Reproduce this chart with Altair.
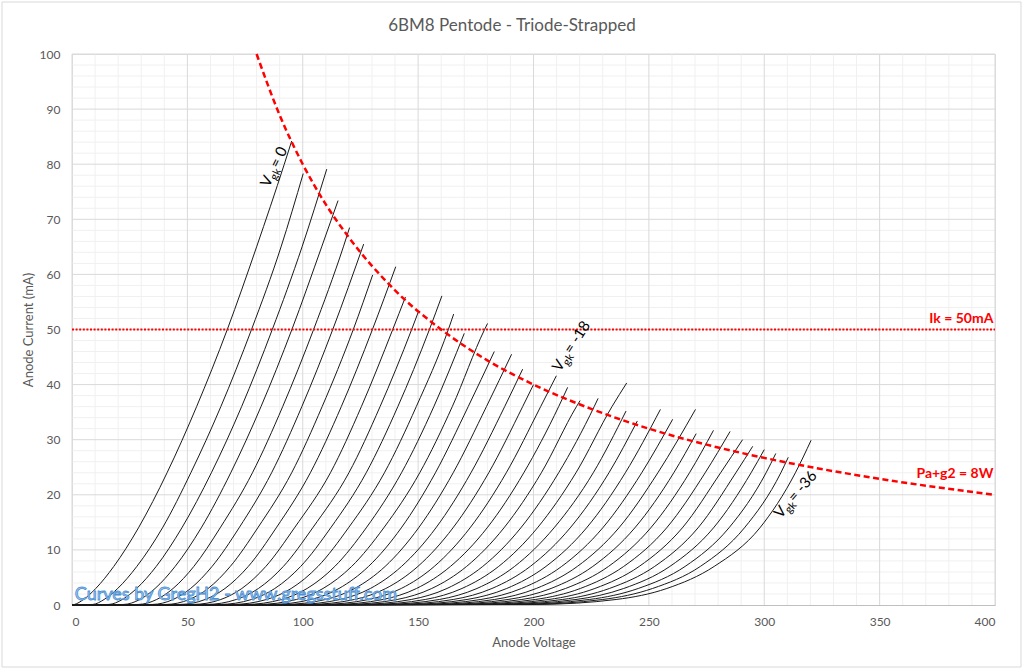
import math
import pandas as pd
import altair as alt

# ---------------- data ----------------
# anode current levels (mA) at which the anode voltage of each curve was read
LEVELS = [0.1, 1, 3, 7, 14, 24, 36, 50, 65, 80]
GRID_V = list(range(0, -37, -1))  # Vgk of each curve

# anode voltage (V) of each curve at LEVELS[0], LEVELS[1], ... (until the curve stops)
CURVE_V = [
    [1.1, 5.0, 10.3, 18.1, 28.8, 41.2, 54.0, 67.3, 80.0, 92.0],
    [9.0, 13.9, 19.8, 28.1, 39.2, 51.5, 64.5, 77.8, 90.6],
    [15.9, 21.8, 28.0, 36.5, 47.6, 60.4, 73.5, 86.8, 99.7],
    [22.4, 29.4, 36.0, 44.7, 56.0, 68.8, 81.9, 95.3, 108.2],
    [28.7, 36.7, 43.8, 52.8, 64.2, 78.2, 91.3, 104.7, 117.6],
    [34.8, 43.8, 51.4, 60.7, 72.4, 86.5, 99.6, 113.0],
    [40.8, 50.8, 59.0, 68.6, 80.5, 95.2, 108.4, 121.9],
    [46.7, 57.7, 66.3, 76.4, 88.5, 103.3, 116.7, 130.2],
    [52.5, 64.5, 73.6, 84.0, 96.4, 112.0, 125.4, 139.0],
    [58.3, 71.2, 80.8, 91.6, 104.3, 120.0, 133.5, 147.2],
    [64.0, 77.8, 87.9, 99.1, 112.1, 127.5, 141.2, 154.9],
    [69.6, 84.3, 95.0, 106.6, 119.8, 135.4, 149.2, 163.1],
    [75.2, 90.8, 101.9, 113.9, 127.5, 142.8, 156.8],
    [80.7, 97.2, 108.8, 121.2, 135.1, 150.7, 164.8, 178.8],
    [86.2, 103.6, 115.7, 128.5, 142.7, 157.5, 171.7],
    [91.7, 109.9, 122.5, 135.7, 150.2, 165.2, 179.6],
    [97.1, 116.2, 129.3, 142.8, 157.7, 172.9, 187.5],
    [102.5, 122.4, 136.0, 149.9, 165.1, 180.6, 195.3],
    [107.9, 128.6, 142.7, 157.0, 172.5, 188.2, 203.1],
    [113.3, 134.8, 149.3, 164.0, 179.9, 195.8, 210.9],
    [118.6, 140.9, 155.9, 171.0, 187.2, 203.4, 218.6],
    [123.9, 147.0, 162.5, 178.0, 194.5, 210.9, 226.3],
    [129.2, 153.1, 169.0, 184.9, 201.7, 218.4, 234.0],
    [134.4, 159.2, 175.5, 191.8, 208.9, 225.9],
    [139.7, 165.2, 182.0, 198.6, 215.9, 232.7],
    [144.9, 171.2, 188.4, 205.4, 223.0, 239.8],
    [150.1, 177.2, 194.8, 212.2, 230.0, 246.9],
    [155.3, 183.1, 201.2, 219.0, 237.0, 253.9],
    [160.4, 189.0, 207.6, 225.7, 243.9, 260.8],
    [165.6, 194.9, 213.9, 232.5, 250.8, 267.6],
    [170.7, 200.8, 220.3, 239.1, 257.7, 274.4],
    [175.8, 206.7, 226.6, 245.8, 264.5, 281.1],
    [180.9, 212.6, 232.9, 252.5, 271.3, 287.7],
    [186.0, 218.4, 239.1, 259.1, 278.0, 294.3],
    [191.1, 224.2, 245.4, 265.7, 284.7, 300.8],
    [196.2, 230.0, 251.6, 272.3, 291.4, 307.2],
    [201.2, 235.8, 257.8, 278.3, 298.1, 313.5],
]
# last point of each curve
END_V = [95.2, 100.2, 110.4, 115.3, 120.3, 126.4, 130.3, 140.3, 144.5, 150.1,
         160.3, 165.4, 170.0, 180.1, 183.0, 190.5, 195.3, 200.0, 209.9, 214.8,
         220.2, 228.0, 240.4, 240.1, 245.0, 255.0, 260.3, 270.2, 270.5, 278.0,
         285.2, 290.6, 295.0, 300.0, 305.0, 310.4, 320.3]
END_I = [84.2, 78.3, 79.1, 73.4, 68.5, 65.5, 59.9, 61.4, 55.9, 53.2,
         56.1, 52.8, 49.3, 51.1, 46.0, 45.5, 42.8, 40.0, 41.6, 39.5,
         37.1, 37.5, 40.3, 35.2, 33.4, 35.5, 33.7, 35.5, 31.1, 31.7,
         31.5, 30.0, 28.8, 28.2, 27.5, 26.8, 29.9]

# Pa+g2 = 8 W dissipation curve
PWR_V = [80, 90, 100, 110, 120, 140, 160, 180, 200, 225, 250, 275, 300, 350, 400]
PWR_I = [100, 88.9, 80, 72.7, 66.7, 57.1, 50, 44.4, 40, 35.6, 32, 29.1, 26.7, 22.9, 20]
# Ik = 50 mA line
IK_V = [0, 400]
IK_I = [50, 50]

X_MAJOR = list(range(0, 401, 50))
Y_MAJOR = list(range(0, 101, 10))
X_MINOR = [v for v in range(0, 401, 10) if v % 50]
Y_MINOR = [v for v in range(0, 101, 2) if v % 10]

# curve labels (start of the text, data units) and their angle
LAB_TXT = ["0", "-18", "-36"]
LAB_V = [85.4, 211.5, 307.2]
LAB_I = [75.7, 42.2, 15.6]
LAB_ANG = [296, 303, 310.6]

# ---------------- layout ----------------
W, H = 923, 551
PX_V = W / 400.0
PX_I = H / 100.0
FONT = "Lato"
GREY = "#595959"

rows = []
for k, (xs, ve, ie) in enumerate(zip(CURVE_V, END_V, END_I)):
    pts = [(0.0, 0.0)] + list(zip(xs, LEVELS)) + [(ve, ie)]
    for j, (v, i) in enumerate(pts):
        rows.append({"curve": GRID_V[k], "order": j, "v": v, "i": i})
curves = pd.DataFrame(rows)

xs_scale = alt.Scale(domain=[0, 400], nice=False, zero=True)
ys_scale = alt.Scale(domain=[0, 100], nice=False, zero=True)
X_AX = alt.Axis(values=X_MAJOR, grid=False, ticks=False, domain=True, domainColor="#bfbfbf",
                labelColor=GREY, labelFont=FONT, labelFontSize=12, labelPadding=11,
                title="Anode Voltage", titleColor=GREY, titleFont=FONT, titleFontSize=13,
                titleFontWeight="normal", titlePadding=9)
Y_AX = alt.Axis(values=Y_MAJOR, grid=False, ticks=False, domain=False,
                labelColor=GREY, labelFont=FONT, labelFontSize=12, labelPadding=12,
                title="Anode Current (mA)", titleColor=GREY, titleFont=FONT, titleFontSize=13,
                titleFontWeight="normal", titlePadding=4)


def X(f):
    return alt.X(f, type="quantitative", scale=xs_scale, axis=X_AX)


def Y(f):
    return alt.Y(f, type="quantitative", scale=ys_scale, axis=Y_AX)


gx_min = alt.Chart(pd.DataFrame({"v": X_MINOR})).mark_rule(color="#f0f0f0", strokeWidth=1).encode(x=X("v"))
gy_min = alt.Chart(pd.DataFrame({"i": Y_MINOR})).mark_rule(color="#f0f0f0", strokeWidth=1).encode(y=Y("i"))
gx_maj = alt.Chart(pd.DataFrame({"v": X_MAJOR})).mark_rule(color="#d9d9d9", strokeWidth=1).encode(x=X("v"))
gy_maj = alt.Chart(pd.DataFrame({"i": Y_MAJOR[1:]})).mark_rule(color="#d9d9d9", strokeWidth=1).encode(y=Y("i"))

lines = alt.Chart(curves).mark_line(color="#1a1a1a", strokeWidth=1, interpolate="monotone").encode(
    x=X("v"), y=Y("i"), detail="curve:N", order="order:Q")

pwr = alt.Chart(pd.DataFrame({"v": PWR_V, "i": PWR_I})).mark_line(
    color="#ff0000", strokeWidth=2.5, strokeDash=[6, 3.5], interpolate="monotone").encode(x=X("v"), y=Y("i"))
ik = alt.Chart(pd.DataFrame({"v": IK_V, "i": IK_I})).mark_line(
    color="#ff0000", strokeWidth=2, strokeDash=[2, 1.6]).encode(x=X("v"), y=Y("i"))

notes = pd.DataFrame({"v": [399.3, 399.3], "i": [51.1, 23.0], "t": ["Ik = 50mA", "Pa+g2 = 8W"]})
note_txt = alt.Chart(notes).mark_text(align="right", baseline="alphabetic", font=FONT, fontSize=14,
                                      fontWeight="bold", color="#ff0000").encode(x=X("v"), y=Y("i"), text="t:N")

# rotated "Vgk = n" labels with a subscript "gk"
pieces = []
for txt, v0, i0, ang in zip(LAB_TXT, LAB_V, LAB_I, LAB_ANG):
    a = math.radians(ang)
    ux, uy = math.cos(a), math.sin(a)
    px_, py_ = -math.sin(a), math.cos(a)
    for s, fs, along, down in [("V", 15, 0.0, 0.0), ("gk", 11, 9.5, 3.5), (" = " + txt, 15, 21.0, 0.0)]:
        ox = along * ux + down * px_
        oy = along * uy + down * py_
        pieces.append({"v": v0 + ox / PX_V, "i": i0 - oy / PX_I, "t": s, "fs": fs, "ang": ang})
lab = alt.Chart(pd.DataFrame(pieces)).mark_text(align="left", baseline="alphabetic", font=FONT,
                                                color="#000000").encode(
    x=X("v"), y=Y("i"), text="t:N", size=alt.Size("fs:Q", scale=None), angle=alt.Angle("ang:Q", scale=None))

wm = alt.Chart(pd.DataFrame({"v": [1.2], "i": [0.9], "t": ["Curves by GregH2 - www.gregsstuff.com"]})).mark_text(
    align="left", baseline="alphabetic", font=FONT, fontSize=18, fill="#a9cdee", stroke="#4a8fd4",
    strokeWidth=0.8).encode(x=X("v"), y=Y("i"), text="t:N")

title = alt.Chart(pd.DataFrame({"t": ["6BM8 Pentode - Triode-Strapped"]})).mark_text(
    align="center", baseline="middle", font=FONT, fontSize=17, color=GREY).encode(
    x=alt.value(512 - 72), y=alt.value(26 - 54), text="t:N")

border = alt.Chart(pd.DataFrame({"k": [0]})).mark_rect(fill=None, fillOpacity=0, stroke="#d9d9d9",
                                                       strokeWidth=1).encode(
    x=alt.value(-70), x2=alt.value(W + 26), y=alt.value(-52), y2=alt.value(H + 62))

chart = alt.layer(border, gx_min, gy_min, gx_maj, gy_maj, lines, ik, pwr, note_txt, lab, wm, title).properties(
    width=W, height=H,
    padding={"left": 72, "top": 54, "right": 29, "bottom": 65},
    autosize=alt.AutoSizeParams(type="none"),
).configure_view(stroke=None).configure(background="white")

chart.save("out.html", embed_options={"renderer": "svg", "actions": False})
